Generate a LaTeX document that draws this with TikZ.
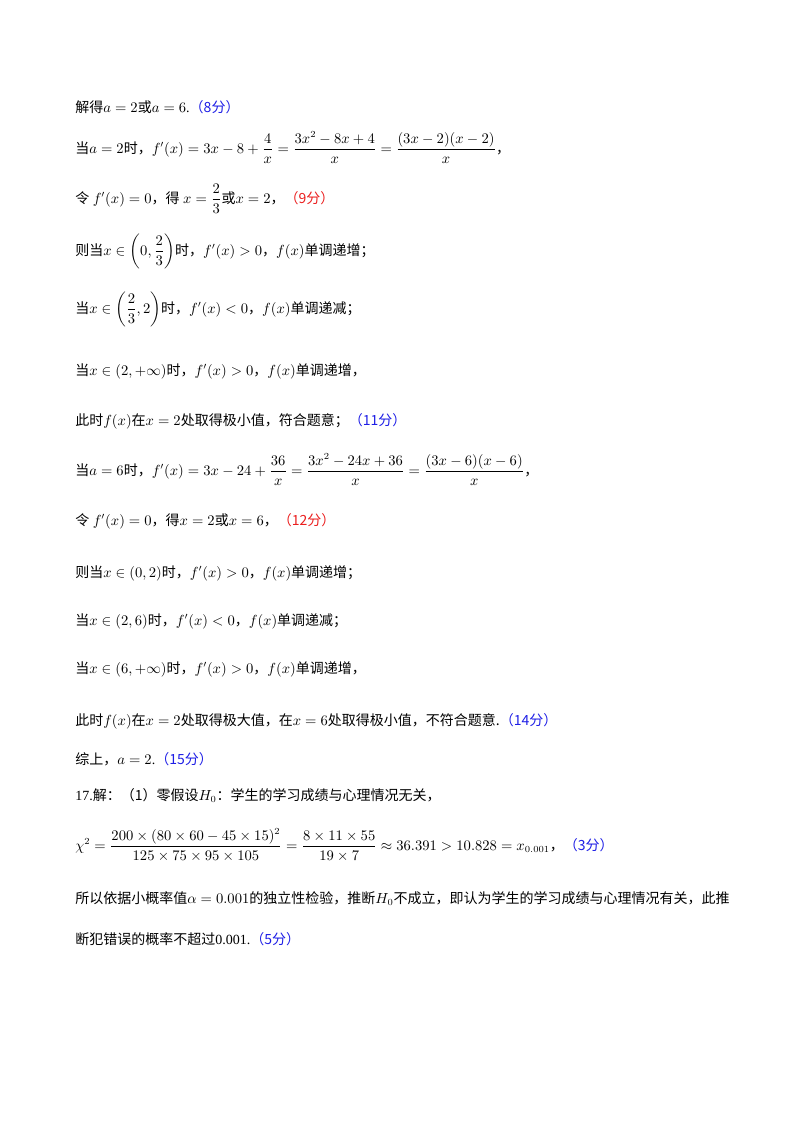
\documentclass[tikz,border=0pt]{standalone}
\usepackage{fontspec}
\usepackage{amsmath}
\setmainfont{Liberation Serif}
\newfontfamily\cjk{Noto Sans CJK SC}
\newcommand{\zh}[1]{{\cjk #1}}
\newcommand{\cm}{\zh{，}}
\definecolor{sb}{RGB}{30,30,230}
\definecolor{sr}{RGB}{235,30,30}
\newcommand{\bl}[1]{\textcolor{sb}{#1}}
\newcommand{\rd}[1]{\textcolor{sr}{#1}}
\begin{document}
\begin{tikzpicture}[x=0.75pt,y=-0.75pt,
  ln/.style={anchor=base west,inner sep=0pt,font=\fontsize{10.5}{12}\selectfont}]
\useasboundingbox[fill=white] (0,0) rectangle (800,1132);
\node[ln] (l1) at (75,112) {\zh{解得}$a=2$\zh{或}$a=6$.\bl{\zh{（8分）}}};
\node[ln] (l2) at (75,153) {\zh{当}$a=2$\zh{时，}$f'(x)=3x-8+\dfrac{4}{x}=\dfrac{3x^2-8x+4}{x}=\dfrac{(3x-2)(x-2)}{x}$\cm};
\node[ln] (l3) at (75,203) {\zh{令} $f'(x)=0$\cm\zh{得} $x=\dfrac{2}{3}$\zh{或}$x=2$\cm\rd{\zh{（9分）}}};
\node[ln] (l4) at (75,255) {\zh{则当}$x\in\left(0,\dfrac{2}{3}\right)$\zh{时，}$f'(x)>0$\cm$f(x)$\zh{单调递增；}};
\node[ln] (l5) at (75,313) {\zh{当}$x\in\left(\dfrac{2}{3},2\right)$\zh{时，}$f'(x)<0$\cm$f(x)$\zh{单调递减；}};
\node[ln] (l6) at (75,375) {\zh{当}$x\in(2,+\infty)$\zh{时，}$f'(x)>0$\cm$f(x)$\zh{单调递增，}};
\node[ln] (l7) at (75,425) {\zh{此时}$f(x)$\zh{在}$x=2$\zh{处取得极小值，符合题意；}\bl{\zh{（11分）}}};
\node[ln] (l8) at (75,475) {\zh{当}$a=6$\zh{时，}$f'(x)=3x-24+\dfrac{36}{x}=\dfrac{3x^2-24x+36}{x}=\dfrac{(3x-6)(x-6)}{x}$\cm};
\node[ln] (l9) at (75,525) {\zh{令} $f'(x)=0$\cm\zh{得}$x=2$\zh{或}$x=6$\cm\rd{\zh{（12分）}}};
\node[ln] (l10) at (75,577) {\zh{则当}$x\in(0,2)$\zh{时，}$f'(x)>0$\cm$f(x)$\zh{单调递增；}};
\node[ln] (l11) at (75,625) {\zh{当}$x\in(2,6)$\zh{时，}$f'(x)<0$\cm$f(x)$\zh{单调递减；}};
\node[ln] (l12) at (75,673) {\zh{当}$x\in(6,+\infty)$\zh{时，}$f'(x)>0$\cm$f(x)$\zh{单调递增，}};
\node[ln] (l13) at (75,725) {\zh{此时}$f(x)$\zh{在}$x=2$\zh{处取得极大值，在}$x=6$\zh{处取得极小值，不符合题意.}\bl{\zh{（14分）}}};
\node[ln] (l14) at (75,764) {\zh{综上，}$a=2$.\bl{\zh{（15分）}}};
\node[ln] (l15) at (75,800) {17.\zh{解：（1）零假设}$H_0$\zh{：学生的学习成绩与心理情况无关，}};
\node[ln] (l16) at (75,850) {$\chi^2=\dfrac{200\times(80\times60-45\times15)^2}{125\times75\times95\times105}=\dfrac{8\times11\times55}{19\times7}\approx36.391>10.828=x_{0.001}$\cm\bl{\zh{（3分）}}};
\node[ln] (l17) at (75,903) {\zh{所以依据小概率值}$\alpha=0.001$\zh{的独立性检验，推断}$H_0$\zh{不成立，即认为学生的学习成绩与心理情况有关，此推}};
\node[ln] (l18) at (75,944) {\zh{断犯错误的概率不超过}0.001.\bl{\zh{（5分）}}};
\end{tikzpicture}
\end{document}
